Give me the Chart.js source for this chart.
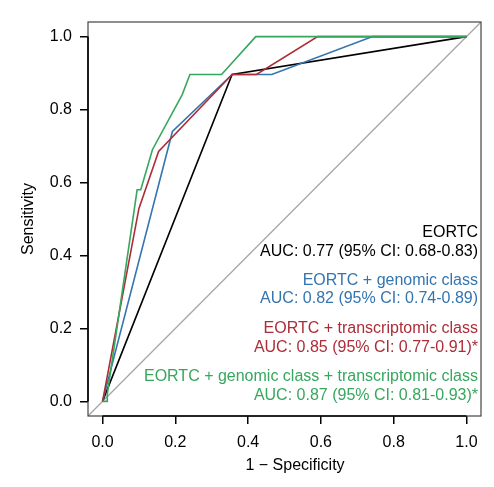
<!DOCTYPE html>
<html lang="en">
<head>
<meta charset="UTF-8">
<title>ROC curves</title>
<script src="https://cdn.jsdelivr.net/npm/chart.js"></script>
<style>
  html, body { margin: 0; padding: 0; background: #fff; }
  canvas { display: block; }
</style>
</head>
<body>
<canvas id="rocChart" width="494" height="487"></canvas>
<script>
// ROC points, x = 1 - specificity, y = sensitivity
const eortcX = [0, 0.356, 1];
const eortcY = [0, 0.896, 1];

const genomicX = [0, 0.192, 0.356, 0.465, 0.742, 1];
const genomicY = [0, 0.740, 0.896, 0.896, 1, 1];

const transcrX = [0, 0.100, 0.154, 0.356, 0.423, 0.591, 1];
const transcrY = [0, 0.529, 0.685, 0.896, 0.896, 1, 1];

const bothX = [0, 0.013, 0.013, 0.095, 0.105, 0.137, 0.219, 0.240, 0.327, 0.421, 1];
const bothY = [0, 0, 0.02, 0.580, 0.580, 0.690, 0.841, 0.896, 0.896, 1, 1];

// chance line y = x across the whole plot range
const chanceLine = [-0.04, 1.04];

const tickValues = [0, 0.2, 0.4, 0.6, 0.8, 1.0];

const labels = [
  ["EORTC", "AUC: 0.77 (95% CI: 0.68-0.83)"],
  ["EORTC + genomic class", "AUC: 0.82 (95% CI: 0.74-0.89)"],
  ["EORTC + transcriptomic class", "AUC: 0.85 (95% CI: 0.77-0.91)*"],
  ["EORTC + genomic class + transcriptomic class", "AUC: 0.87 (95% CI: 0.81-0.93)*"],
];

const colors = ["#000000", "#3475b0", "#ad2c38", "#37a75e"];

const FONT = "'Liberation Sans', Arial, Helvetica, sans-serif";

function toPoints(xs, ys) {
  return xs.map((x, i) => ({ x: x, y: ys[i] }));
}

// box, axis lines, axis titles and AUC labels
const decorations = {
  id: "decorations",
  afterDraw(chart) {
    const ctx = chart.ctx;
    const a = chart.chartArea;
    const xs = chart.scales.x;
    const ys = chart.scales.y;
    ctx.save();

    ctx.strokeStyle = "#444";
    ctx.lineWidth = 1.2;
    ctx.strokeRect(a.left, a.top, a.right - a.left, a.bottom - a.top);

    ctx.strokeStyle = "#000";
    ctx.lineWidth = 1.6;
    ctx.beginPath();
    ctx.moveTo(xs.getPixelForValue(0), a.bottom);
    ctx.lineTo(xs.getPixelForValue(1), a.bottom);
    ctx.moveTo(a.left, ys.getPixelForValue(0));
    ctx.lineTo(a.left, ys.getPixelForValue(1));
    ctx.stroke();

    ctx.font = "16px " + FONT;
    ctx.fillStyle = "#000";
    ctx.textBaseline = "middle";
    ctx.textAlign = "center";
    ctx.fillText("1 \u2212 Specificity", 295, 466);
    ctx.save();
    ctx.translate(29, (a.top + a.bottom) / 2);
    ctx.rotate(-Math.PI / 2);
    ctx.fillText("Sensitivity", 0, 0);
    ctx.restore();

    ctx.textAlign = "right";
    const groupTop = [233, 280.5, 329, 377];
    labels.forEach((pair, i) => {
      ctx.fillStyle = colors[i];
      ctx.fillText(pair[0], 478, groupTop[i]);
      ctx.fillText(pair[1], 478, groupTop[i] + 18.5);
    });
    ctx.restore();
  }
};

const lineStyle = { showLine: true, pointRadius: 0, borderWidth: 1.6, fill: false, tension: 0 };

new Chart(document.getElementById("rocChart"), {
  type: "scatter",
  data: {
    datasets: [
      Object.assign({ label: "chance", data: toPoints(chanceLine, chanceLine), borderColor: "#a6a6a6", borderWidth: 1.3, order: 5 }, { showLine: true, pointRadius: 0 }),
      Object.assign({ label: labels[0][0], data: toPoints(eortcX, eortcY), borderColor: colors[0], order: 4 }, lineStyle),
      Object.assign({ label: labels[1][0], data: toPoints(genomicX, genomicY), borderColor: colors[1], order: 3 }, lineStyle),
      Object.assign({ label: labels[2][0], data: toPoints(transcrX, transcrY), borderColor: colors[2], order: 2 }, lineStyle),
      Object.assign({ label: labels[3][0], data: toPoints(bothX, bothY), borderColor: colors[3], order: 1 }, lineStyle),
    ],
  },
  options: {
    responsive: false,
    animation: false,
    layout: { padding: { top: 22, right: 13, left: 0, bottom: 0 } },
    plugins: { legend: { display: false }, tooltip: { enabled: false } },
    scales: {
      x: {
        type: "linear",
        min: -0.04,
        max: 1.04,
        afterBuildTicks: (axis) => { axis.ticks = tickValues.map((v) => ({ value: v })); },
        afterFit: (scale) => { scale.height = 71; },
        border: { display: false },
        grid: { drawOnChartArea: false, drawTicks: true, tickLength: 8, color: "#000", lineWidth: 1.5 },
        ticks: { color: "#000", padding: 9, maxRotation: 0, font: { family: FONT, size: 16 }, callback: (v) => v.toFixed(1) },
      },
      y: {
        type: "linear",
        min: -0.04,
        max: 1.04,
        afterBuildTicks: (axis) => { axis.ticks = tickValues.map((v) => ({ value: v })); },
        afterFit: (scale) => { scale.width = 88; },
        border: { display: false },
        grid: { drawOnChartArea: false, drawTicks: true, tickLength: 8, color: "#000", lineWidth: 1.5 },
        ticks: { color: "#000", padding: 8, font: { family: FONT, size: 16 }, callback: (v) => v.toFixed(1) },
      },
    },
  },
  plugins: [decorations],
});
</script>
</body>
</html>
